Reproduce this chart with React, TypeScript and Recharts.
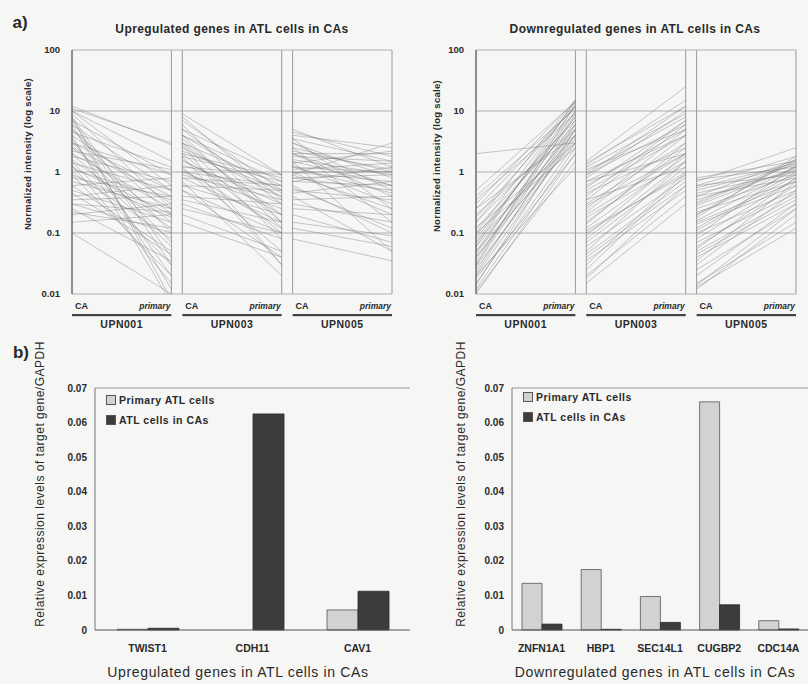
import React from "react";
import {
  ScatterChart, Scatter, BarChart, Bar, XAxis, YAxis, CartesianGrid, ReferenceLine,
} from "recharts";

// a) normalized intensity per gene, [CA, primary], one list per patient
const upUPN001: [number, number][] = [
  [12, 2.8], [11, 3.0], [10, 0.6], [9, 0.25], [8, 0.04], [6, 0.012], [5, 0.1], [4, 0.3],
  [3.5, 0.02], [3, 0.5], [2.5, 0.15], [2, 0.06], [1.8, 0.7], [1.5, 0.03], [1.2, 0.2], [1, 0.08],
  [0.8, 0.4], [0.6, 0.05], [0.5, 0.15], [0.4, 0.6], [0.3, 0.1], [0.25, 0.035], [0.2, 0.3],
  [0.1, 0.01], [0.15, 0.2], [3, 0.9], [6, 0.5], [2, 0.25],
  [7, 0.9], [5, 0.2], [4.5, 1.2], [3, 0.07], [2.5, 0.4], [2.2, 1.1], [1.6, 0.12], [1.4, 0.5],
  [1.1, 0.35], [0.9, 0.18], [0.7, 0.25], [0.6, 0.8], [0.45, 0.045], [0.35, 0.4], [0.3, 0.22],
  [0.22, 0.12], [0.9, 0.02], [1.3, 0.015], [7, 0.03], [10, 1.5], [8, 0.008], [4, 0.007],
];
const upUPN003: [number, number][] = [
  [9, 0.9], [7, 0.5], [5, 0.3], [4, 0.7], [4, 0.12], [3, 0.2], [3, 0.6], [2.5, 0.4], [2, 0.1],
  [2, 0.8], [1.5, 0.3], [1.2, 0.05], [1, 0.25], [1, 0.6], [0.8, 0.15], [0.7, 0.02], [0.5, 0.1],
  [0.4, 0.3], [0.3, 0.08], [0.2, 0.05], [0.15, 0.04], [6, 0.15], [1.8, 0.03], [0.6, 0.5],
  [8, 0.35], [5, 0.9], [4, 0.45], [3.5, 0.15], [3, 0.08], [2.2, 0.5], [1.8, 0.7], [1.6, 0.2],
  [1.3, 0.4], [1.1, 0.12], [0.9, 0.35], [0.8, 0.6], [0.6, 0.2], [0.5, 0.04], [0.35, 0.15],
  [0.25, 0.1], [2.8, 0.03], [1.2, 0.9],
];
const upUPN005: [number, number][] = [
  [5, 1.2], [4, 2.5], [3, 0.8], [2.5, 1], [2, 0.4], [1.8, 1.5], [1.5, 0.6], [1.3, 0.3], [1.2, 1],
  [1, 0.2], [1, 0.7], [0.8, 0.5], [0.7, 1.2], [0.6, 0.1], [0.5, 0.35], [0.4, 0.05], [0.3, 0.15],
  [0.15, 0.09], [0.12, 0.06], [0.08, 0.035], [3.5, 0.25], [2, 2], [0.9, 3],
  [4.5, 1.8], [3.5, 1.5], [3, 0.5], [2.5, 0.15], [2.2, 1.1], [1.6, 0.9], [1.4, 2.2], [1.2, 0.45],
  [1.1, 1.4], [0.9, 0.25], [0.8, 0.9], [0.7, 0.6], [0.55, 0.12], [0.45, 0.7], [0.35, 0.4],
  [0.25, 0.2], [0.2, 0.07], [1.5, 0.05], [2, 0.6], [1, 1],
];
const downUPN001: [number, number][] = [
  [2, 3], [0.3, 15], [0.25, 12], [0.1, 14], [0.08, 10], [0.06, 15], [0.05, 8], [0.04, 6],
  [0.03, 13], [0.025, 5], [0.02, 4], [0.015, 3], [0.012, 2.5], [0.01, 2], [0.07, 4], [0.15, 7],
  [0.2, 5], [0.05, 3], [0.035, 9], [0.4, 11], [0.02, 1.2], [0.12, 3],
  [0.5, 14], [0.35, 9], [0.18, 12], [0.15, 15], [0.12, 6], [0.09, 8], [0.07, 12], [0.045, 10],
  [0.04, 4], [0.03, 7], [0.028, 3.5], [0.022, 6], [0.018, 2], [0.014, 5], [0.011, 1.5],
  [0.1, 2.5], [0.25, 4], [0.06, 5],
];
const downUPN003: [number, number][] = [
  [1.5, 25], [1.4, 12], [1, 8], [0.9, 6], [0.8, 10], [0.6, 5], [0.5, 4], [0.4, 7], [0.3, 3],
  [0.25, 5], [0.2, 2], [0.15, 2.5], [0.12, 1.8], [0.1, 1], [0.08, 1.5], [0.06, 0.8], [0.04, 0.6],
  [0.03, 1], [0.02, 0.4], [0.015, 0.3], [0.7, 2], [0.35, 1.2],
  [1.3, 15], [1.2, 9], [1.1, 5], [0.9, 12], [0.7, 4], [0.55, 7], [0.45, 2.5], [0.35, 6],
  [0.28, 2], [0.22, 4], [0.18, 1.5], [0.14, 3], [0.11, 0.9], [0.09, 2], [0.07, 1.2], [0.05, 1.5],
  [0.045, 0.7], [0.035, 0.5], [0.025, 0.9], [0.018, 0.6],
];
const downUPN005: [number, number][] = [
  [0.8, 1.5], [0.7, 2.5], [0.5, 1.3], [0.4, 1.6], [0.35, 1.1], [0.3, 1.4], [0.25, 0.9], [0.2, 1.2],
  [0.15, 0.7], [0.12, 1], [0.1, 0.5], [0.08, 0.8], [0.06, 0.6], [0.05, 0.4], [0.04, 0.3],
  [0.03, 0.5], [0.025, 0.25], [0.015, 0.15], [0.012, 0.2], [0.6, 0.9], [0.18, 1.8],
  [0.75, 1.2], [0.6, 1.8], [0.55, 1.4], [0.45, 1], [0.4, 0.8], [0.32, 1.5], [0.28, 1.2],
  [0.22, 0.7], [0.2, 1.6], [0.16, 1.1], [0.14, 0.6], [0.11, 0.9], [0.09, 1.3], [0.07, 0.45],
  [0.055, 0.8], [0.045, 0.35], [0.035, 0.7], [0.02, 0.3], [0.014, 0.25], [0.013, 0.12],
];
const patients = ["UPN001", "UPN003", "UPN005"];
const logTicks = [0.01, 0.1, 1, 10, 100];

// b) qPCR, target gene / GAPDH
const upGenes = ["TWIST1", "CDH11", "CAV1"];
const upPrimary = [0.0002, 0, 0.0058];
const upCA = [0.0005, 0.0625, 0.0112];
const downGenes = ["ZNFN1A1", "HBP1", "SEC14L1", "CUGBP2", "CDC14A"];
const downPrimary = [0.0135, 0.0175, 0.0097, 0.066, 0.0027];
const downCA = [0.0017, 0.0002, 0.0022, 0.0073, 0.0003];
const barTicks = [0, 0.01, 0.02, 0.03, 0.04, 0.05, 0.06, 0.07];
const seriesNames = ["Primary ATL cells", "ATL cells in CAs"];

const FONT = '"Liberation Sans", Arial, sans-serif';
const INK = "#2a2a2a";
const LIGHT = "#d2d2d2";
const DARK = "#3c3c3c";
const GAP = 0.11; // space between patient sub-panels, in sub-panel widths

// eslint-disable-next-line @typescript-eslint/no-explicit-any
const Txt = ({ x, y, size, bold, rotate, ls = 0, children }: any) => (
  <div style={{
    position: "absolute", left: x, top: y, transform: `translate(-50%, -50%)${rotate ? " rotate(-90deg)" : ""}`,
    fontFamily: FONT, fontSize: size, fontWeight: bold ? 700 : 400, color: INK, whiteSpace: "nowrap",
    lineHeight: 1, letterSpacing: ls,
  }}>{children}</div>
);

function ProfilePanel({ groups, left, top }: { groups: [number, number][][]; left: number; top: number }) {
  const W = 400, H = 290, yW = 72, mr = 8;
  const total = 3 + 2 * GAP;
  const unitPx = (W - yW - mr) / total;
  const starts = groups.map((_, k) => k * (1 + GAP));
  const xTicks = starts.flatMap(o => [o, o + 0.5, o + 1]);

  // eslint-disable-next-line @typescript-eslint/no-explicit-any
  const tick = ({ x, y, index }: any) => {
    const k = Math.floor(index / 3), r = index % 3;
    if (r === 0) return <text x={x + 3} y={y + 15} fontSize={9} fontWeight={700} fill={INK} fontFamily={FONT}>CA</text>;
    if (r === 2) return <text x={x - 1} y={y + 15} textAnchor="end" fontSize={8.5} fontStyle="italic" fontWeight={700} fill={INK} fontFamily={FONT}>primary</text>;
    return (
      <g>
        <rect x={x - unitPx / 2} y={y + 20} width={unitPx} height={2.2} fill="#444" />
        <text x={x} y={y + 34} textAnchor="middle" fontSize={10.5} fontWeight={700} letterSpacing={0.5} fill={INK} fontFamily={FONT}>{patients[k]}</text>
      </g>
    );
  };

  return (
    <div style={{ position: "absolute", left, top }}>
      <ScatterChart width={W} height={H} margin={{ top: 10, right: mr, bottom: 0, left: 0 }}>
        <CartesianGrid vertical={false} stroke="#a8a8a8" strokeWidth={0.9} />
        <XAxis type="number" dataKey="x" domain={[0, total]} ticks={xTicks} interval={0} tick={tick}
          tickLine={false} tickSize={0} tickMargin={0} axisLine={false} height={36} allowDataOverflow />
        <YAxis type="number" dataKey="y" scale="log" domain={[0.01, 100]} ticks={logTicks} allowDataOverflow
          width={yW} tickLine={false} tickSize={0} tickMargin={12} axisLine={{ stroke: "#555", strokeWidth: 1 }}
          tick={{ fontSize: 9.5, fontWeight: 700, fill: INK, fontFamily: FONT }} tickFormatter={(v: number) => String(v)} />
        {starts.flatMap(o => [
          <ReferenceLine key={`l${o}`} x={o} stroke="#8f8f8f" strokeWidth={0.9} />,
          <ReferenceLine key={`r${o}`} x={o + 1} stroke="#8f8f8f" strokeWidth={0.9} />,
        ])}
        {groups.flatMap((g, k) => g.map(([ca, pr], i) => (
          <Scatter key={`${k}-${i}`} data={[{ x: starts[k], y: ca }, { x: starts[k] + 1, y: pr }]}
            line={{ stroke: "#707070", strokeWidth: 0.75, strokeOpacity: 0.5 }} shape={() => <g />}
            isAnimationActive={false} legendType="none" />
        )))}
      </ScatterChart>
    </div>
  );
}

const BarLegend = ({ x, y }: { x: number; y: number }) => (
  <div style={{
    position: "absolute", left: x, top: y, fontFamily: FONT, fontSize: 10.5, fontWeight: 700,
    letterSpacing: 0.5, color: INK, lineHeight: "20px",
  }}>
    {seriesNames.map((label, i) => (
      <div key={label} style={{ display: "flex", alignItems: "center", gap: 3 }}>
        <div style={{ width: 8, height: 8, background: i === 0 ? LIGHT : DARK, border: "1px solid #555" }} />
        <span>{label}</span>
      </div>
    ))}
  </div>
);

// eslint-disable-next-line @typescript-eslint/no-explicit-any
function ExpressionBars({ genes, primary, ca, left, width, yW, barSize }: any) {
  const data = genes.map((g: string, i: number) => ({ gene: g, primary: primary[i], ca: ca[i] }));
  return (
    <div style={{ position: "absolute", left, top: 378 }}>
      <BarChart width={width} height={282} data={data} margin={{ top: 10, right: 0, bottom: 0, left: 0 }} barGap={0}>
        <XAxis dataKey="gene" interval={0} tickLine={false} tickSize={0} tickMargin={15} height={30}
          axisLine={{ stroke: "#555", strokeWidth: 1.2 }} tick={{ fontSize: 10.5, fontWeight: 700, fill: INK, fontFamily: FONT }} />
        <YAxis domain={[0, 0.07]} ticks={barTicks} width={yW} tickLine={false} tickSize={0} tickMargin={8}
          axisLine={{ stroke: "#777" }} tick={{ fontSize: 10, fontWeight: 700, fill: INK, fontFamily: FONT }}
          tickFormatter={(v: number) => (v === 0 ? "0" : v.toFixed(2))} />
        <YAxis yAxisId="frame" orientation="right" width={0} tick={false} axisLine={{ stroke: "#999" }} />
        <ReferenceLine y={0.07} stroke="#999" />
        <Bar dataKey="primary" name={seriesNames[0]} fill={LIGHT} stroke="#555" strokeWidth={0.8} barSize={barSize} isAnimationActive={false} />
        <Bar dataKey="ca" name={seriesNames[1]} fill={DARK} stroke="#2a2a2a" strokeWidth={0.8} barSize={barSize} isAnimationActive={false} />
      </BarChart>
    </div>
  );
}

export default function App() {
  return (
    <div style={{ position: "absolute", left: 0, top: 0, width: 808, height: 684, background: "#f6f6f5", overflow: "hidden" }}>
      <Txt x={20} y={22} size={17} bold>a)</Txt>
      <Txt x={232} y={29} size={12} bold ls={0.4}>Upregulated genes in ATL cells in CAs</Txt>
      <Txt x={635} y={29} size={12} bold ls={0.4}>Downregulated genes in ATL cells in CAs</Txt>
      <Txt x={28} y={154} size={9.5} bold ls={0.3} rotate>Normalized intensity (log scale)</Txt>
      <Txt x={437} y={156} size={9.5} bold ls={0.3} rotate>Normalized intensity (log scale)</Txt>

      <ProfilePanel groups={[upUPN001, upUPN003, upUPN005]} left={0} top={40} />
      <ProfilePanel groups={[downUPN001, downUPN003, downUPN005]} left={404} top={40} />

      <Txt x={21} y={352} size={17} bold>b)</Txt>
      <Txt x={40} y={484} size={12} ls={0.5} rotate>Relative expression levels of target gene/GAPDH</Txt>
      <Txt x={461} y={484} size={12} ls={0.5} rotate>Relative expression levels of target gene/GAPDH</Txt>
      <Txt x={238} y={672} size={14} ls={0.65}>Upregulated genes in ATL cells in CAs</Txt>
      <Txt x={655} y={672} size={14} ls={0.65}>Downregulated genes in ATL cells in CAs</Txt>

      <ExpressionBars genes={upGenes} primary={upPrimary} ca={upCA} left={0} width={410} yW={95} barSize={31} />
      <ExpressionBars genes={downGenes} primary={downPrimary} ca={downCA} left={440} width={368} yW={72} barSize={20} />
      <BarLegend x={106} y={390} />
      <BarLegend x={523} y={387} />
    </div>
  );
}
